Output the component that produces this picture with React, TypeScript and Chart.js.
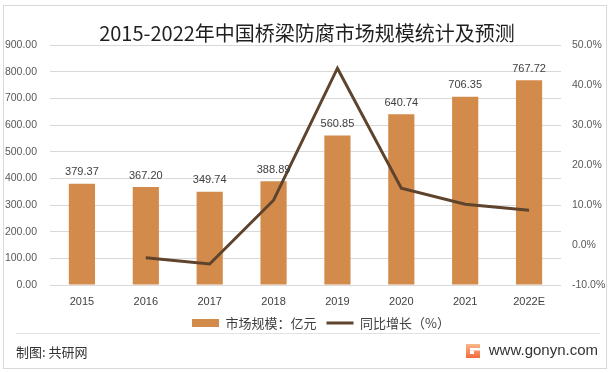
import React, { useEffect, useRef } from "react";
import { Chart, registerables } from "chart.js";

Chart.register(...registerables);

const titleText = "2015-2022年中国桥梁防腐市场规模统计及预测";
const categories = ["2015", "2016", "2017", "2018", "2019", "2020", "2021", "2022E"];
const marketSize = [379.37, 367.2, 349.74, 388.89, 560.85, 640.74, 706.35, 767.72];
const growthRate: (number | null)[] = [null, -3.2, -4.75, 11.2, 44.2, 14.2, 10.2, 8.7];
const seriesNames = ["市场规模：亿元", "同比增长（%）"];
const leftAxis = { min: 0, max: 900, step: 100 };
const rightAxis = { min: -10, max: 50, step: 10 };
const footerLeft = "制图: 共研网";
const footerRight = "www.gonyn.com";

const BAR_COLOR = "#d38b4c";
const LINE_COLOR = "#5e432d";
const NUM_FONT = "'Liberation Sans', Arial, sans-serif";
const CJK_FONT = "'Noto Sans CJK SC', 'Noto Sans', sans-serif";

const decorPlugin = {
  id: "decor",
  afterLayout(chart: any) {
    const lg = chart.legend;
    if (lg) {
      lg.left += 14;
      lg.right += 14;
    }
  },
  beforeDraw(chart: any) {
    const ctx = chart.ctx;
    ctx.save();
    ctx.fillStyle = "#ffffff";
    ctx.fillRect(0, 0, chart.width, chart.height);
    ctx.restore();
  },
  afterDraw(chart: any) {
    const ctx = chart.ctx;
    ctx.save();
    ctx.strokeStyle = "#d9d9d9";
    ctx.lineWidth = 1;
    ctx.strokeRect(3.5, 5.5, 603, 363);
    ctx.strokeStyle = "#e3e3e3";
    ctx.beginPath();
    ctx.moveTo(16, 333.5);
    ctx.lineTo(600, 333.5);
    ctx.stroke();
    ctx.fillStyle = "#333333";
    ctx.font = `13px ${CJK_FONT}`;
    ctx.textAlign = "left";
    ctx.textBaseline = "middle";
    ctx.fillText(footerLeft, 16, 352);
    ctx.font = `15px ${NUM_FONT}`;
    ctx.fillStyle = "#333333";
    ctx.textAlign = "right";
    ctx.fillText(footerRight, 598, 351);
    const lx = 466, ly = 344, s = 14;
    const g = ctx.createLinearGradient(lx, ly, lx, ly + s);
    g.addColorStop(0, "#fbb98a");
    g.addColorStop(1, "#f26a3a");
    ctx.fillStyle = g;
    ctx.fillRect(lx, ly, s, s);
    ctx.fillStyle = "#ffffff";
    ctx.fillRect(lx + 4, ly + 4, s - 4, 2.5);
    ctx.fillRect(lx + 4, ly + 6.5, 4, 3.5);
    ctx.restore();
  },
};

const valueLabelPlugin = {
  id: "valueLabels",
  afterDatasetsDraw(chart: any) {
    const ctx = chart.ctx;
    const meta = chart.getDatasetMeta(0);
    ctx.save();
    ctx.fillStyle = "#404040";
    ctx.font = `11px ${NUM_FONT}`;
    ctx.textAlign = "center";
    ctx.textBaseline = "bottom";
    meta.data.forEach((bar: any, i: number) => {
      ctx.fillText(marketSize[i].toFixed(2), bar.x, bar.y - 6);
    });
    ctx.restore();
  },
};

export default function App() {
  const canvasRef = useRef<HTMLCanvasElement | null>(null);

  useEffect(() => {
    const canvas = canvasRef.current;
    if (!canvas) return;
    const chart = new Chart(canvas, {
      type: "bar",
      data: {
        labels: categories,
        datasets: [
          {
            type: "bar",
            label: seriesNames[0],
            data: marketSize,
            backgroundColor: BAR_COLOR,
            borderWidth: 0,
            categoryPercentage: 1,
            barPercentage: 0.41,
            yAxisID: "y",
            order: 2,
            pointStyle: "rect",
          } as any,
          {
            type: "line",
            label: seriesNames[1],
            data: growthRate,
            borderColor: LINE_COLOR,
            backgroundColor: LINE_COLOR,
            borderWidth: 3,
            pointRadius: 0,
            pointHoverRadius: 0,
            tension: 0,
            fill: false,
            yAxisID: "y1",
            order: 1,
            pointStyle: "line",
          } as any,
        ],
      },
      options: {
        responsive: false,
        animation: false,
        layout: { padding: { left: 4, right: 4, top: 0, bottom: 33.5 } },
        plugins: {
          title: {
            display: true,
            text: titleText,
            color: "#1f1f1f",
            font: { family: CJK_FONT, size: 20, weight: "normal" },
            padding: { top: 21, bottom: 0 },
          },
          legend: {
            position: "bottom",
            labels: {
              usePointStyle: true,
              pointStyleWidth: 27,
              boxHeight: 8,
              padding: 10,
              color: "#404040",
              font: { family: CJK_FONT, size: 13 },
              sort: (a: any, b: any) => a.datasetIndex - b.datasetIndex,
            },
          },
          tooltip: { enabled: false },
        },
        scales: {
          x: {
            grid: { display: false, drawTicks: false },
            border: { display: false },
            ticks: {
              color: "#404040",
              font: { family: NUM_FONT, size: 11 },
              padding: 10.5,
            },
            afterFit: (scale: any) => {
              scale.height = 21.5;
            },
          },
          y: {
            position: "left",
            min: leftAxis.min,
            max: leftAxis.max,
            grid: { color: "#d9d9d9", drawTicks: false },
            border: { display: false },
            ticks: {
              stepSize: leftAxis.step,
              color: "#595959",
              font: { family: NUM_FONT, size: 10.5 },
              padding: 13,
              callback: (v: any) => Number(v).toFixed(2),
            },
            afterFit: (scale: any) => {
              scale.width = 46;
            },
          },
          y1: {
            position: "right",
            min: rightAxis.min,
            max: rightAxis.max,
            grid: { drawOnChartArea: false, drawTicks: false },
            border: { display: false },
            ticks: {
              stepSize: rightAxis.step,
              color: "#595959",
              font: { family: NUM_FONT, size: 10.5 },
              padding: 11,
              callback: (v: any) => Number(v).toFixed(1) + "%",
            },
            afterFit: (scale: any) => {
              scale.width = 49;
            },
          },
        },
      },
      plugins: [decorPlugin, valueLabelPlugin],
    } as any);
    return () => chart.destroy();
  }, []);

  return (
    <div style={{ position: "absolute", left: 0, top: 0, width: 614, height: 373 }}>
      <canvas ref={canvasRef} width={614} height={373} style={{ display: "block" }} />
    </div>
  );
}
